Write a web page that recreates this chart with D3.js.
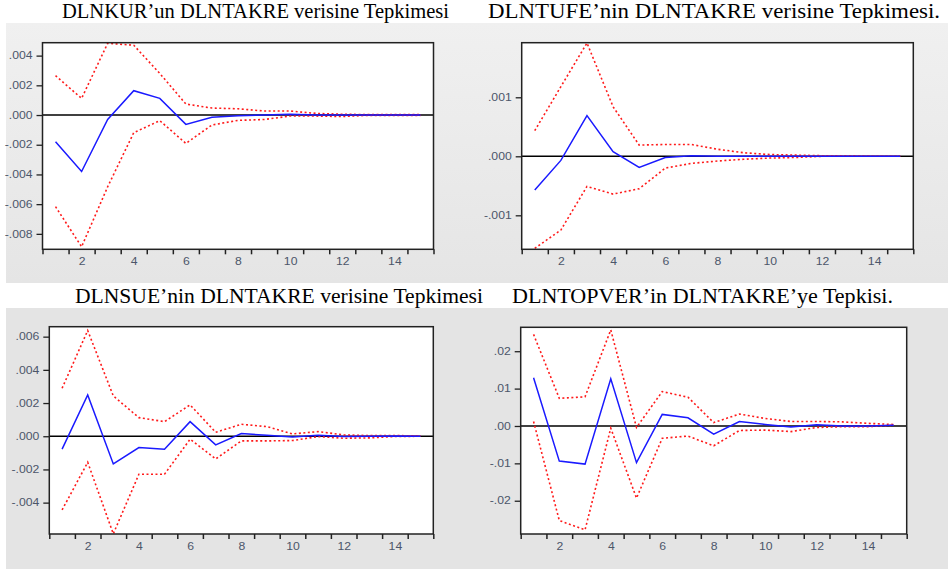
<!DOCTYPE html>
<html>
<head>
<meta charset="utf-8">
<script src="https://cdn.jsdelivr.net/npm/d3@7"></script>
<style>
  html, body { margin: 0; padding: 0; background: #ffffff; }
  svg { display: block; }
  .tick text { font-family: Arial, "Liberation Sans", sans-serif; font-size: 10px; fill: #4c566a; }
</style>
</head>
<body>
<svg id="chart" width="948" height="569"></svg>
<script>
// Impulse-response periods
const periods = [1, 2, 3, 4, 5, 6, 7, 8, 9, 10, 11, 12, 13, 14, 15];
const xLabelTicks = [2, 4, 6, 8, 10, 12, 14];

// DLNKUR response to DLNTAKRE
const kurResp  = [-0.0018, -0.0038, -0.0003, 0.00164, 0.00112, -0.00063, -0.00015, -0.00005, 0.0, 0.00005, 0.0, 0.0, 0.0, 0.0, 0.0];
const kurUpper = [0.00265, 0.00112, 0.00483, 0.0047, 0.0028, 0.00074, 0.00047, 0.00042, 0.00027, 0.00027, 0.00011, 0.00005, 0.00003, 0.00003, 0.00003];
const kurLower = [-0.00617, -0.00887, -0.00483, -0.00119, -0.00038, -0.00191, -0.00067, -0.00036, -0.0003, -0.00007, -0.00007, -0.0001, -0.00002, -0.00002, -0.00002];
const kurTicks = [0.004, 0.002, 0.0, -0.002, -0.004, -0.006, -0.008];

// DLNTUFE response to DLNTAKRE
const tufeResp  = [-0.00057, -0.00007, 0.00069, 0.00008, -0.00019, -0.00002, 0.00001, 0.0, 0.0, 0.0, 0.0, 0.0, 0.0, 0.0, 0.0];
const tufeUpper = [0.000435, 0.00118, 0.00192, 0.00084, 0.00019, 0.0002, 0.0002, 0.00012, 0.00006, 0.00003, 0.00002, 0.00001, 0.00001, 0.0, 0.0];
const tufeLower = [-0.00156, -0.00125, -0.00051, -0.00064, -0.00055, -0.0002, -0.00012, -0.00008, -0.00005, -0.00003, -0.00002, 0.0, 0.0, 0.0, 0.0];
const tufeTicks = [0.001, 0.0, -0.001];

// DLNSUE response to DLNTAKRE
const sueResp  = [-0.00078, 0.00249, -0.00167, -0.00068, -0.00078, 0.00088, -0.00052, 0.00016, 0.00006, -0.00004, 0.00006, -0.00002, 0.0, 0.00002, 0.0];
const sueUpper = [0.00289, 0.00637, 0.00243, 0.00112, 0.00088, 0.00189, 0.00024, 0.00072, 0.00058, 0.00014, 0.00028, 0.00008, 0.00004, 0.00004, 0.00002];
const sueLower = [-0.00444, -0.00157, -0.00588, -0.00229, -0.00229, -0.00018, -0.00137, -0.00028, -0.00028, -0.00026, -0.00002, -0.00012, -0.0001, -0.00002, 0.0];
const sueTicks = [0.006, 0.004, 0.002, 0.0, -0.002, -0.004];

// DLNTOPVER response to DLNTAKRE
const topResp  = [0.0129, -0.0094, -0.0102, 0.0126, -0.0098, 0.0031, 0.0022, -0.0022, 0.0012, 0.0004, -0.0003, 0.0003, 0.0, 0.0, 0.0002];
const topUpper = [0.0245, 0.0074, 0.0078, 0.0257, -0.0004, 0.0092, 0.0077, 0.0009, 0.0032, 0.002, 0.0012, 0.0012, 0.0011, 0.0007, 0.0004];
const topLower = [0.0012, -0.0253, -0.0278, -0.0006, -0.0193, -0.0033, -0.0027, -0.0053, -0.0012, -0.0011, -0.0015, -0.0004, -0.0002, -0.0002, 0.0002];
const topTicks = [0.02, 0.01, 0.0, -0.01, -0.02];

const titles = [
  "DLNKUR\u2019un DLNTAKRE verisine Tepkimesi",
  "DLNTUFE\u2019nin DLNTAKRE verisine Tepkimesi.",
  "DLNSUE\u2019nin DLNTAKRE verisine Tepkimesi",
  "DLNTOPVER\u2019in DLNTAKRE\u2019ye Tepkisi."
];

const svg = d3.select("#chart");
const defs = svg.append("defs");

const grad = defs.append("linearGradient").attr("id", "bgTop")
  .attr("x1", 0).attr("y1", 0).attr("x2", 0).attr("y2", 1);
grad.append("stop").attr("offset", "0%").attr("stop-color", "#f0f0f0");
grad.append("stop").attr("offset", "100%").attr("stop-color", "#e5e5e5");

// panel backgrounds
svg.append("rect").attr("x", 6).attr("y", 23).attr("width", 942).attr("height", 260).attr("fill", "url(#bgTop)");
svg.append("rect").attr("x", 6).attr("y", 308).attr("width", 942).attr("height", 261).attr("fill", "#e4e4e4");

// titles
const titleSpecs = [
  { text: titles[0], x: 62,  y: 18,  w: 387 },
  { text: titles[1], x: 488, y: 18,  w: 452 },
  { text: titles[2], x: 75,  y: 303, w: 408 },
  { text: titles[3], x: 512, y: 303, w: 381 }
];
titleSpecs.forEach(t => {
  svg.append("text")
    .attr("x", t.x).attr("y", t.y)
    .attr("font-family", "'Liberation Serif', 'Times New Roman', Times, serif")
    .attr("font-size", 21)
    .attr("fill", "#000")
    .attr("textLength", t.w).attr("lengthAdjust", "spacingAndGlyphs")
    .text(t.text);
});

const panels = [
  { id: "p1", box: [42.5, 42.7, 433.5, 249.3], domain: [-0.00904, 0.00487], ticks: kurTicks,  resp: kurResp,  up: kurUpper,  lo: kurLower },
  { id: "p2", box: [521.7, 42.7, 913.3, 249.3], domain: [-0.001576, 0.001925], ticks: tufeTicks, resp: tufeResp, up: tufeUpper, lo: tufeLower },
  { id: "p3", box: [49.3, 326.7, 433.3, 534], domain: [-0.00589, 0.0066], ticks: sueTicks,  resp: sueResp,  up: sueUpper,  lo: sueLower },
  { id: "p4", box: [520.7, 327.3, 906.7, 534], domain: [-0.0289, 0.0264], ticks: topTicks,  resp: topResp,  up: topUpper,  lo: topLower }
];

function fmt(v, digits) {
  let s = Math.abs(v).toFixed(digits).replace(/^0/, "");
  return (v < 0 ? "-" : "") + s;
}

// tick labels are drawn slightly wide
function widen(sel) {
  sel.each(function () {
    const w = this.getComputedTextLength();
    d3.select(this).attr("textLength", w * 1.22).attr("lengthAdjust", "spacingAndGlyphs");
  });
}

panels.forEach(p => {
  const [x0, y0, x1, y1] = p.box;
  const x = d3.scaleLinear().domain([0.5, 15.5]).range([x0, x1]);
  const y = d3.scaleLinear().domain(p.domain).range([y1, y0]);
  const digits = p.id === "p4" ? 2 : 3;

  const g = svg.append("g");

  g.append("rect").attr("x", x0).attr("y", y0).attr("width", x1 - x0).attr("height", y1 - y0)
    .attr("fill", "#ffffff");

  defs.append("clipPath").attr("id", "clip-" + p.id)
    .append("rect").attr("x", x0).attr("y", y0).attr("width", x1 - x0).attr("height", y1 - y0);

  // y axis
  const yAxis = g.append("g").attr("transform", `translate(${x0},0)`)
    .call(d3.axisLeft(y).tickValues(p.ticks).tickSize(6).tickSizeOuter(0).tickFormat(d => fmt(d, digits)));
  yAxis.select(".domain").remove();
  yAxis.selectAll(".tick line").attr("stroke", "#222").attr("stroke-width", 1.3);
  yAxis.selectAll(".tick text").attr("x", -10).call(widen);

  // x axis: boundary ticks + period labels
  const bounds = d3.range(0.5, 16, 1);
  const xAxis = g.append("g").attr("transform", `translate(0,${y1})`)
    .call(d3.axisBottom(x).tickValues(bounds).tickSize(5).tickSizeOuter(0).tickFormat(""));
  xAxis.select(".domain").remove();
  xAxis.selectAll(".tick line").attr("stroke", "#222").attr("stroke-width", 1.5);

  const xLab = g.append("g").attr("transform", `translate(0,${y1})`)
    .call(d3.axisBottom(x).tickValues(xLabelTicks).tickSize(0).tickPadding(9).tickFormat(d3.format("d")));
  xLab.select(".domain").remove();
  xLab.selectAll(".tick text").call(widen);

  const plot = g.append("g").attr("clip-path", `url(#clip-${p.id})`);

  // zero line
  plot.append("line").attr("x1", x0).attr("x2", x1).attr("y1", y(0)).attr("y2", y(0))
    .attr("stroke", "#000").attr("stroke-width", 1.5);

  const line = d3.line().x((d, i) => x(periods[i])).y(d => y(d));

  [p.up, p.lo].forEach(arr => {
    plot.append("path").datum(arr).attr("d", line)
      .attr("fill", "none").attr("stroke", "#ff1a1a").attr("stroke-width", 1.6)
      .attr("stroke-dasharray", "2,2.5");
  });

  plot.append("path").datum(p.resp).attr("d", line)
    .attr("fill", "none").attr("stroke", "#1a1aff").attr("stroke-width", 1.5);

  // frame
  g.append("rect").attr("x", x0).attr("y", y0).attr("width", x1 - x0).attr("height", y1 - y0)
    .attr("fill", "none").attr("stroke", "#222").attr("stroke-width", 1.5);
});
</script>
</body>
</html>
